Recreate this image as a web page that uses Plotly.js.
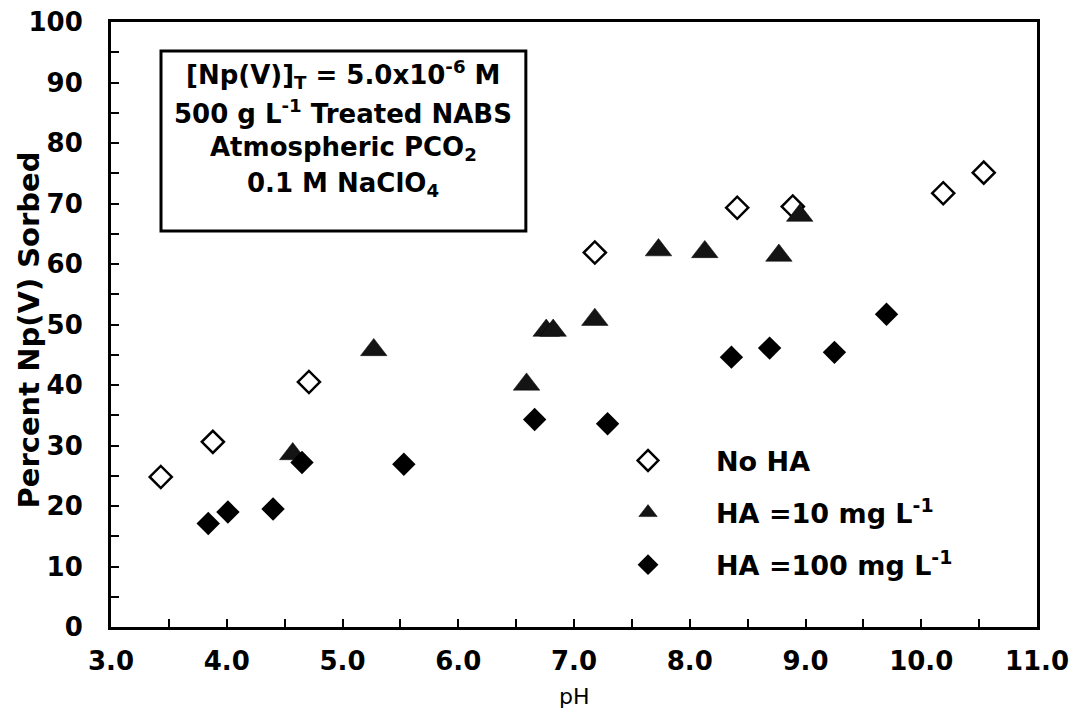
<!DOCTYPE html>
<html>
<head>
<meta charset="utf-8">
<script src="https://cdn.plot.ly/plotly-3.0.1.min.js"></script>
<style>html,body{margin:0;padding:0;background:#fff;}#chart{width:1079px;height:723px;}</style>
</head>
<body>
<div id="chart"></div>
<script>
// Series names
const seriesNames = ["No HA", "HA =10 mg L<sup>-1</sup>", "HA =100 mg L<sup>-1</sup>"];

// No HA (open diamonds)
const noHA_pH = [3.43, 3.88, 4.71, 7.18, 8.41, 8.89, 10.19, 10.54];
const noHA_sorbed = [24.8, 30.6, 40.5, 61.9, 69.3, 69.5, 71.7, 75.1];

// HA = 10 mg/L (triangles)
const ha10_pH = [4.57, 5.27, 6.59, 6.76, 6.82, 7.18, 7.73, 8.13, 8.77, 8.95];
const ha10_sorbed = [28.6, 45.8, 40.1, 49.0, 49.0, 50.8, 62.3, 62.0, 61.4, 68.0];

// HA = 100 mg/L (filled diamonds)
const ha100_pH = [3.84, 4.01, 4.40, 4.65, 5.53, 6.66, 7.29, 8.36, 8.69, 9.25, 9.70];
const ha100_sorbed = [17.1, 19.0, 19.5, 27.2, 26.9, 34.3, 33.6, 44.6, 46.1, 45.4, 51.7];

// Text box lines
const boxLines = [
  "[Np(V)]<sub>T</sub> = 5.0x10<sup>-6</sup> M",
  "500 g L<sup>-1</sup> Treated NABS",
  "Atmospheric PCO<sub>2</sub>",
  "0.1 M NaClO<sub>4</sub>"
];
const xTitle = "pH";
const yTitle = "Percent Np(V) Sorbed";

const FONT = "DejaVu Sans, Verdana, sans-serif";

const traces = [
  {
    x: noHA_pH, y: noHA_sorbed, name: seriesNames[0], type: "scatter", mode: "markers",
    legendgroup: "a",
    marker: {symbol: "diamond-open", size: 17, color: "#000", line: {width: 2.5, color: "#000"}}
  },
  {
    x: ha10_pH, y: ha10_sorbed, name: seriesNames[1], type: "scatter", mode: "markers",
    legendgroup: "b",
    marker: {symbol: "triangle-up", size: 23, color: "#141414", line: {width: 0.5, color: "#000"}}
  },
  {
    x: ha100_pH, y: ha100_sorbed, name: seriesNames[2], type: "scatter", mode: "markers",
    legendgroup: "c",
    marker: {symbol: "diamond", size: 18, color: "#000", line: {width: 0}}
  }
];

// box geometry (paper coords)
const boxX0 = 0.054, boxX1 = 0.448, boxY0 = 0.6545, boxY1 = 0.952;
const lineYs = [0.9124, 0.8512, 0.7917, 0.7306];

const annotations = boxLines.map((t, i) => ({
  xref: "paper", yref: "paper", x: (boxX0 + boxX1) / 2, y: lineYs[i],
  xanchor: "center", yanchor: "middle", text: t, showarrow: false,
  font: {family: FONT, size: 26, color: "#000", weight: "bold"}
}));
annotations.push({
  xref: "paper", yref: "paper", x: -0.089, y: 0.491, xanchor: "center", yanchor: "middle",
  text: yTitle, textangle: -90, showarrow: false,
  font: {family: FONT, size: 29, color: "#000", weight: "bold"}
});
annotations.push({
  xref: "paper", yref: "paper", x: 0.5, y: -0.115, xanchor: "center", yanchor: "middle",
  text: xTitle, showarrow: false,
  font: {family: FONT, size: 22, color: "#000"}
});

const layout = {
  width: 1079, height: 723,
  margin: {l: 111, r: 42, t: 22, b: 96},
  paper_bgcolor: "#fff", plot_bgcolor: "#fff",
  font: {family: FONT, color: "#000"},
  showlegend: true,
  legend: {
    x: 0.5065, y: 0.315, xanchor: "left", yanchor: "top",
    bgcolor: "rgba(0,0,0,0)", borderwidth: 0,
    font: {family: FONT, size: 27, color: "#000", weight: "bold"},
    itemwidth: 126, tracegroupgap: 14
  },
  xaxis: {
    range: [3, 11], dtick: 1, tick0: 3, tickformat: ".1f",
    showgrid: false, zeroline: false,
    showline: true, linewidth: 3, linecolor: "#000", mirror: true,
    ticks: "inside", ticklen: 8, tickwidth: 2, tickcolor: "#000",
    minor: {dtick: 0.5, ticks: "inside", ticklen: 8, tickwidth: 2, tickcolor: "#000", showgrid: false},
    tickfont: {family: FONT, size: 26, color: "#000", weight: "bold"},
    ticklabelstandoff: 9
  },
  yaxis: {
    range: [0, 100], dtick: 10, tick0: 0,
    showgrid: false, zeroline: false,
    showline: true, linewidth: 3, linecolor: "#000", mirror: true,
    ticks: "inside", ticklen: 8, tickwidth: 2, tickcolor: "#000",
    minor: {dtick: 5, ticks: "inside", ticklen: 8, tickwidth: 2, tickcolor: "#000", showgrid: false},
    tickfont: {family: FONT, size: 26, color: "#000", weight: "bold"},
    ticklabelstandoff: 20
  },
  shapes: [{
    type: "rect", xref: "paper", yref: "paper",
    x0: boxX0, x1: boxX1, y0: boxY0, y1: boxY1,
    line: {color: "#000", width: 3}, fillcolor: "#fff", layer: "above"
  }],
  annotations: annotations
};

Plotly.newPlot("chart", traces, layout, {displayModeBar: false, staticPlot: true});
</script>
</body>
</html>
